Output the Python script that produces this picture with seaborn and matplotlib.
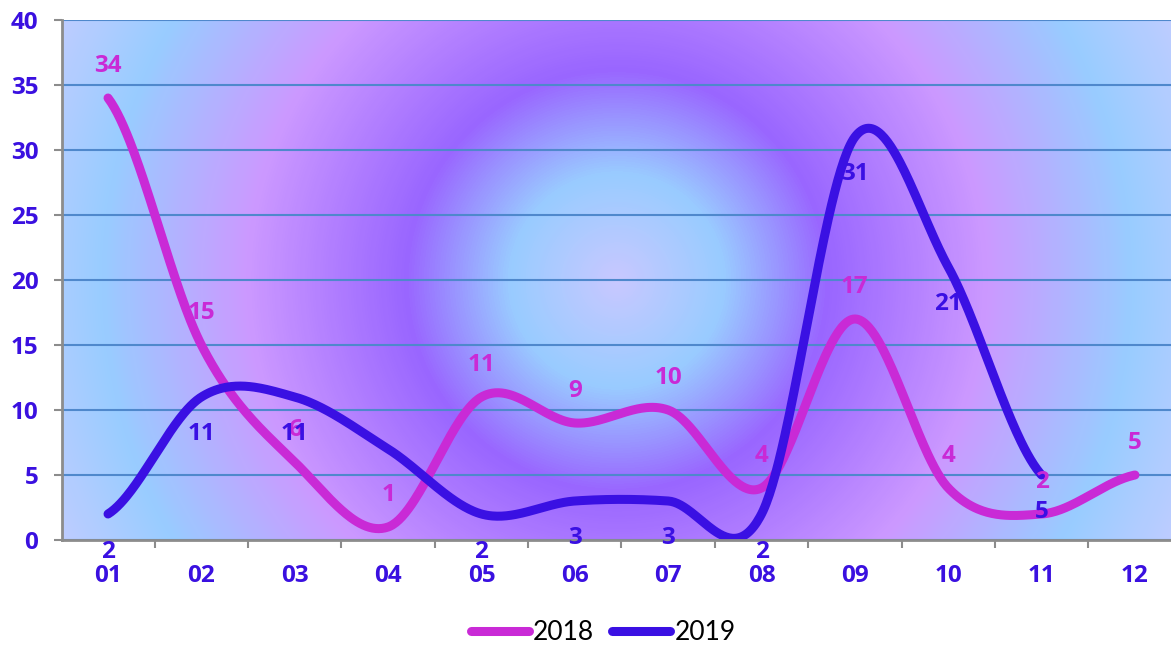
import numpy as np
import pandas as pd
import matplotlib
matplotlib.use("Agg")
import matplotlib.pyplot as plt
from matplotlib.colors import LinearSegmentedColormap
from matplotlib.lines import Line2D
from matplotlib.ticker import FixedLocator
import seaborn as sns

# ---- data ----
months = ["01", "02", "03", "04", "05", "06", "07", "08", "09", "10", "11", "12"]
values_2018 = [34, 15, 6, 1, 11, 9, 10, 4, 17, 4, 2, 5]
values_2019 = [2, 11, 11, 7, 2, 3, 3, 2, 31, 21, 5]
labels_2018 = ["34", "15", "6", "1", "11", "9", "10", "4", "17", "4", "2", "5"]
labels_2019 = ["2", "11", "11", "", "2", "3", "3", "2", "31", "21", "5"]
series_names = ["2018", "2019"]
y_ticks = [0, 5, 10, 15, 20, 25, 30, 35, 40]

c2018 = "#c92ad6"
c2019 = "#3a10e3"
tick_blue = "#3a10e0"

sns.set_style("white")
plt.rcParams["font.family"] = ["Lato", "DejaVu Sans"]
BOLD_FAMILY = ["Open Sans", "DejaVu Sans"]
FS = 17.5


def catmull_rom(ys, n=60):
    ys = np.asarray(ys, dtype=float)
    xs = np.arange(len(ys), dtype=float)
    m = np.zeros_like(ys)
    m[1:-1] = (ys[2:] - ys[:-2]) / 2.0
    m[0] = (ys[1] - ys[0]) / 2.0
    m[-1] = (ys[-1] - ys[-2]) / 2.0
    out_x, out_y = [], []
    for i in range(len(ys) - 1):
        t = np.linspace(0, 1, n, endpoint=(i == len(ys) - 2))
        h00 = 2 * t**3 - 3 * t**2 + 1
        h10 = t**3 - 2 * t**2 + t
        h01 = -2 * t**3 + 3 * t**2
        h11 = t**3 - t**2
        out_y.append(h00 * ys[i] + h10 * m[i] + h01 * ys[i + 1] + h11 * m[i + 1])
        out_x.append(xs[i] + t)
    return np.concatenate(out_x), np.concatenate(out_y)


frames = []
for name, vals in zip(series_names, [values_2018, values_2019]):
    sx, sy = catmull_rom(vals)
    frames.append(pd.DataFrame({"x": sx, "y": sy, "year": name}))
df = pd.concat(frames, ignore_index=True)

W, H = 1171, 646
fig = plt.figure(figsize=(W / 100, H / 100), dpi=100)
ax_l, ax_r, ax_t, ax_b = 62, 1171, 20, 540
ax = fig.add_axes([ax_l / W, 1 - ax_b / H, (ax_r - ax_l) / W, (ax_b - ax_t) / H])

# radial gradient background
pw, ph = ax_r - ax_l, ax_b - ax_t
yy, xx = np.mgrid[0:ph, 0:pw]
r = np.hypot(xx - pw / 2, yy - ph / 2)
rmax = 650.0
stops = [(0, "#c8c8ff"), (105, "#99ccff"), (210, "#9966ff"), (370, "#cc99ff"),
         (515, "#99ccff"), (650, "#ccccff")]
cmap = LinearSegmentedColormap.from_list("radial", [(s / rmax, c) for s, c in stops])
ax.imshow(r / rmax, cmap=cmap, vmin=0, vmax=1, extent=[0, 1, 0, 1],
          transform=ax.transAxes, aspect="auto", zorder=0, interpolation="bilinear")

sns.lineplot(data=df, x="x", y="y", hue="year", palette=[c2018, c2019],
             sort=False, estimator=None, linewidth=6.5, legend=False, ax=ax, zorder=3)
for ln in ax.get_lines():
    ln.set_solid_capstyle("round")
    ln.set_solid_joinstyle("round")

ax.set_xlim(-0.493, 11.386)
ax.set_ylim(0, 40)
ax.set_xlabel("")
ax.set_ylabel("")

# data labels
for i, (v, lab) in enumerate(zip(values_2018, labels_2018)):
    if lab:
        ax.annotate(lab, (i, v), xytext=(0, 23), textcoords="offset points",
                    ha="center", va="center", color=c2018, fontsize=FS,
                    fontweight="bold", family=BOLD_FAMILY, zorder=5,
                    annotation_clip=False)
for i, (v, lab) in enumerate(zip(values_2019, labels_2019)):
    if lab:
        ax.annotate(lab, (i, v), xytext=(0, -27), textcoords="offset points",
                    ha="center", va="center", color=c2019, fontsize=FS,
                    fontweight="bold", family=BOLD_FAMILY, zorder=5,
                    annotation_clip=False)

# axes styling
ax.set_yticks(y_ticks)
ax.set_yticklabels([str(t) for t in y_ticks])
ax.set_xticks(range(len(months)))
ax.set_xticklabels(months)
ax.xaxis.set_minor_locator(FixedLocator(np.arange(-0.5, 11.0, 1.0)))
ax.tick_params(axis="x", which="major", length=0, pad=17, labelsize=FS,
               labelcolor=tick_blue)
ax.tick_params(axis="x", which="minor", length=5.5, width=1.5, color="#8c8c8c",
               direction="out", bottom=True)
ax.tick_params(axis="y", which="major", length=6, width=1.5, color="#8c8c8c",
               pad=11, labelsize=FS, labelcolor=tick_blue, left=True)
for lab in ax.get_xticklabels() + ax.get_yticklabels():
    lab.set_fontweight("bold")
    lab.set_family(BOLD_FAMILY)

ax.grid(axis="y", color="#4f88cc", linewidth=1.5, zorder=1)
ax.grid(axis="x", visible=False)
ax.set_axisbelow(True)
for s in ["top", "right"]:
    ax.spines[s].set_visible(False)
for s in ["left", "bottom"]:
    ax.spines[s].set_color("#8c8c8c")
    ax.spines[s].set_linewidth(2)
    ax.spines[s].set_zorder(4)

handles = [Line2D([0], [0], color=c2018, lw=6.5, solid_capstyle="round"),
           Line2D([0], [0], color=c2019, lw=6.5, solid_capstyle="round")]
fig.legend(handles, series_names, loc="center", bbox_to_anchor=(603 / W, 1 - 633 / H),
           ncol=2, frameon=False, fontsize=19, handlelength=2.2, handletextpad=0.15,
           columnspacing=0.7, labelcolor="black")

fig.savefig("out.png", dpi=100)
